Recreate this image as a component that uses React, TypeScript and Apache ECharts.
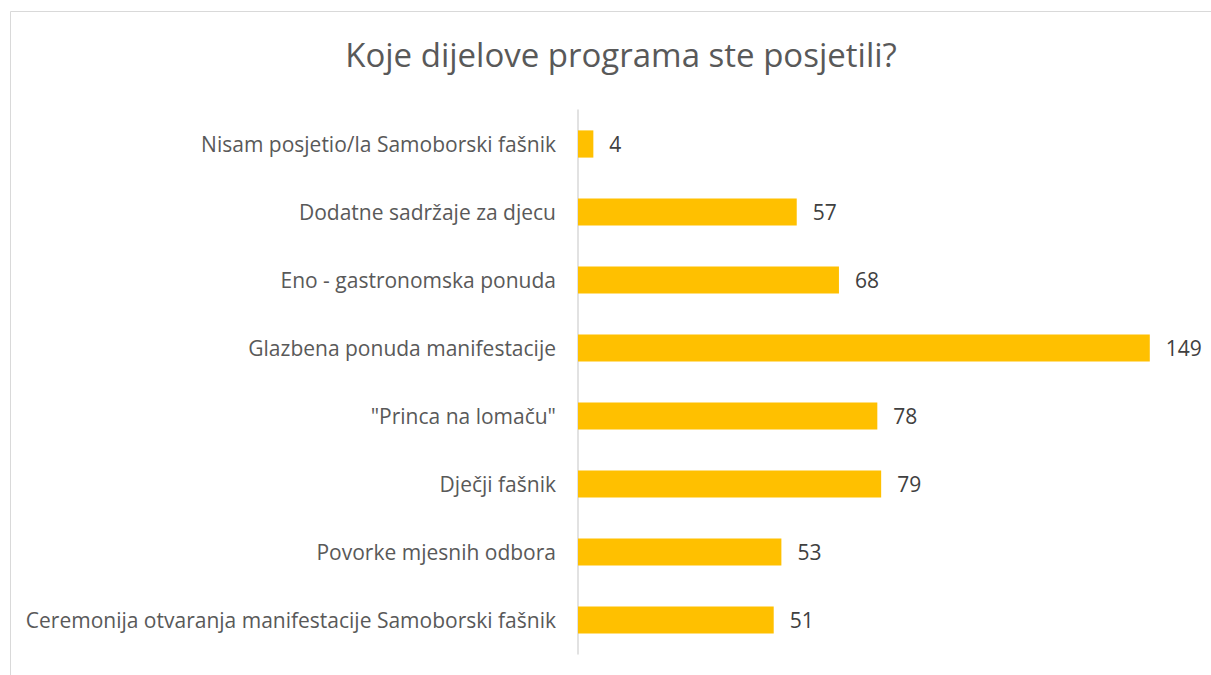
import React, { useEffect, useRef } from "react";
import * as echarts from "echarts";

const titleText = "Koje dijelove programa ste posjetili?";
const categories = [
  "Ceremonija otvaranja manifestacije Samoborski fašnik",
  "Povorke mjesnih odbora",
  "Dječji fašnik",
  "\"Princa na lomaču\"",
  "Glazbena ponuda manifestacije",
  "Eno - gastronomska ponuda",
  "Dodatne sadržaje za djecu",
  "Nisam posjetio/la Samoborski fašnik",
];
const values = [51, 53, 79, 78, 149, 68, 57, 4];

export default function App() {
  const ref = useRef<HTMLDivElement>(null);
  useEffect(() => {
    document.body.style.margin = "0";
    const chart = echarts.init(ref.current!, null, { renderer: "svg" });
    chart.setOption({
      animation: false,
      backgroundColor: "#ffffff",
      textStyle: { fontFamily: "Open Sans" },
      title: {
        text: titleText,
        left: 616,
        top: 33,
        textAlign: "center",
        textStyle: { fontSize: 33, fontWeight: "normal", color: "#595959", fontFamily: "Open Sans" },
      },
      graphic: [
        {
          type: "rect",
          shape: { x: 10.5, y: 11.5, width: 1300, height: 800 },
          style: { fill: "none", stroke: "#d9d9d9", lineWidth: 1 },
          silent: true,
        },
      ],
      grid: { left: 578, right: 19, top: 110, bottom: 21, containLabel: false },
      xAxis: {
        type: "value",
        min: 0,
        max: 160,
        show: false,
      },
      yAxis: {
        type: "category",
        data: categories,
        axisLine: { show: true, lineStyle: { color: "#d9d9d9", width: 1.5 } },
        axisTick: { show: false },
        axisLabel: { color: "#595959", fontSize: 21, margin: 22, fontFamily: "Open Sans" },
      },
      series: [
        {
          type: "bar",
          data: values,
          barWidth: "40%",
          itemStyle: { color: "#FFC000" },
          label: {
            show: true,
            position: "right",
            distance: 16,
            color: "#404040",
            fontSize: 21,
            fontFamily: "Open Sans",
          },
        },
      ],
    });
    return () => chart.dispose();
  }, []);
  return <div ref={ref} style={{ width: 1211, height: 675 }} />;
}
